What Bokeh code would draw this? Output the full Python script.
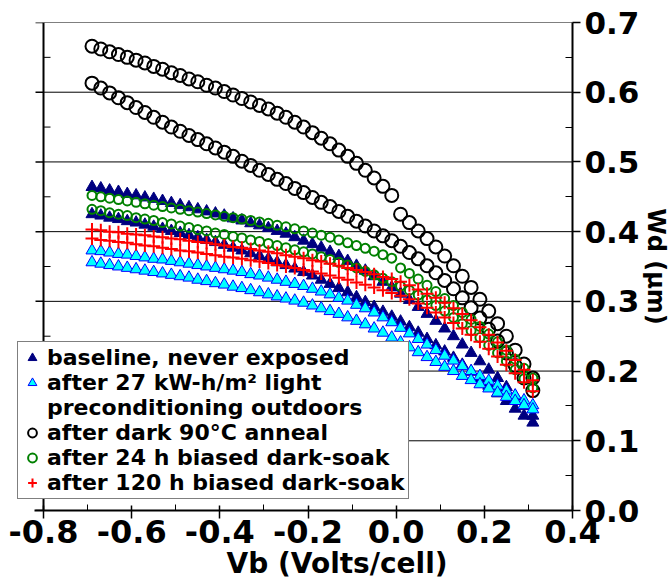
import math
from bokeh.plotting import figure
from bokeh.models import (FixedTicker, NumeralTickFormatter, Legend,
                          LegendItem, Span, Title)
from bokeh.embed import file_html
from bokeh.resources import INLINE

FONT = "DejaVu Sans"

# ---------------- data ----------------
V = [-0.69, -0.67, -0.65, -0.63, -0.61, -0.59, -0.57, -0.55, -0.53, -0.51,
     -0.49, -0.47, -0.45, -0.43, -0.41, -0.39, -0.37, -0.35, -0.33, -0.31,
     -0.29, -0.27, -0.25, -0.23, -0.21, -0.19, -0.17, -0.15, -0.13, -0.11,
     -0.09, -0.07, -0.05, -0.03, -0.01,
     0.01, 0.03, 0.05, 0.07, 0.09, 0.11, 0.13, 0.15, 0.17, 0.19, 0.21, 0.23,
     0.25, 0.27, 0.29, 0.31]

# baseline, never exposed (two cells)
BASE_1 = [0.464, 0.462, 0.459, 0.457, 0.454, 0.452, 0.449, 0.447, 0.444, 0.441,
          0.438, 0.435, 0.432, 0.429, 0.426, 0.423, 0.419, 0.416, 0.412, 0.409,
          0.405, 0.401, 0.397, 0.392, 0.387, 0.382, 0.377, 0.371, 0.365, 0.358,
          0.351, 0.344, 0.336, 0.328, 0.320,
          0.311, 0.302, 0.292, 0.282, 0.272, 0.261, 0.250, 0.238, 0.226, 0.214,
          0.202, 0.190, 0.177, 0.164, 0.150, 0.136]
BASE_2 = [0.425, 0.423, 0.420, 0.418, 0.415, 0.413, 0.410, 0.407, 0.404, 0.401,
          0.398, 0.395, 0.392, 0.388, 0.385, 0.381, 0.377, 0.373, 0.369, 0.365,
          0.361, 0.356, 0.352, 0.347, 0.342, 0.337, 0.331, 0.325, 0.319, 0.313,
          0.306, 0.299, 0.292, 0.285, 0.278,
          0.271, 0.263, 0.255, 0.246, 0.237, 0.228, 0.219, 0.209, 0.199, 0.189,
          0.179, 0.168, 0.157, 0.146, 0.136, 0.126]
# after 27 kW-h/m2 light preconditioning outdoors
LIGHT_1 = [0.373, 0.372, 0.370, 0.368, 0.367, 0.365, 0.363, 0.361, 0.360, 0.358,
           0.356, 0.354, 0.352, 0.350, 0.348, 0.346, 0.344, 0.342, 0.339, 0.337,
           0.334, 0.331, 0.328, 0.325, 0.322, 0.318, 0.314, 0.310, 0.305, 0.301,
           0.295, 0.290, 0.284, 0.277, 0.270,
           0.262, 0.254, 0.246, 0.238, 0.230, 0.222, 0.215, 0.207, 0.200, 0.193,
           0.186, 0.179, 0.172, 0.165, 0.158, 0.151]
LIGHT_2 = [0.356, 0.354, 0.352, 0.350, 0.348, 0.346, 0.344, 0.342, 0.340, 0.338,
           0.336, 0.334, 0.331, 0.329, 0.326, 0.324, 0.321, 0.319, 0.316, 0.313,
           0.310, 0.307, 0.304, 0.301, 0.298, 0.294, 0.290, 0.286, 0.282, 0.277,
           0.272, 0.267, 0.261, 0.255, 0.248,
           0.241, 0.234, 0.227, 0.220, 0.213, 0.206, 0.200, 0.193, 0.187, 0.181,
           0.175, 0.169, 0.163, 0.157, 0.151, 0.145]
# after dark 90C anneal
ANNEAL_1 = [0.666, 0.662, 0.658, 0.654, 0.650, 0.646, 0.642, 0.637, 0.633, 0.628,
            0.624, 0.619, 0.615, 0.610, 0.606, 0.601, 0.596, 0.591, 0.586, 0.581,
            0.576, 0.570, 0.564, 0.557, 0.550, 0.542, 0.534, 0.526, 0.517, 0.508,
            0.498, 0.488, 0.477, 0.465, 0.452,
            0.425, 0.413, 0.401, 0.390, 0.378, 0.365, 0.351, 0.336, 0.320, 0.303,
            0.286, 0.268, 0.250, 0.230, 0.210, 0.190]
ANNEAL_2 = [0.613, 0.606, 0.599, 0.592, 0.585, 0.578, 0.571, 0.564, 0.557, 0.550,
            0.544, 0.538, 0.532, 0.526, 0.520, 0.514, 0.508, 0.501, 0.495, 0.488,
            0.482, 0.475, 0.469, 0.462, 0.456, 0.449, 0.442, 0.436, 0.429, 0.422,
            0.415, 0.408, 0.401, 0.394, 0.387,
            0.379, 0.370, 0.361, 0.351, 0.341, 0.330, 0.318, 0.305, 0.291, 0.276,
            0.260, 0.243, 0.226, 0.208, 0.190, 0.172]
# after 24 h biased dark-soak
SOAK24_1 = [0.452, 0.450, 0.448, 0.446, 0.444, 0.442, 0.440, 0.438, 0.436, 0.434,
            0.432, 0.430, 0.428, 0.426, 0.424, 0.422, 0.420, 0.418, 0.416, 0.414,
            0.412, 0.409, 0.407, 0.404, 0.401, 0.398, 0.395, 0.392, 0.388, 0.384,
            0.380, 0.376, 0.372, 0.367, 0.362,
            0.348, 0.340, 0.332, 0.323, 0.314, 0.304, 0.294, 0.284, 0.274, 0.264,
            0.253, 0.242, 0.230, 0.217, 0.204, 0.190]
SOAK24_2 = [0.432, 0.430, 0.427, 0.425, 0.423, 0.420, 0.418, 0.416, 0.413, 0.411,
            0.408, 0.406, 0.403, 0.401, 0.398, 0.396, 0.393, 0.391, 0.388, 0.386,
            0.383, 0.380, 0.377, 0.374, 0.371, 0.368, 0.364, 0.360, 0.356, 0.352,
            0.348, 0.343, 0.338, 0.333, 0.328,
            0.322, 0.316, 0.309, 0.302, 0.294, 0.286, 0.277, 0.268, 0.258, 0.248,
            0.237, 0.226, 0.214, 0.202, 0.189, 0.176]
# after 120 h biased dark-soak
SOAK120_1 = [0.403, 0.402, 0.400, 0.399, 0.397, 0.396, 0.395, 0.393, 0.392, 0.390,
             0.389, 0.387, 0.385, 0.384, 0.382, 0.380, 0.378, 0.377, 0.375, 0.373,
             0.371, 0.369, 0.366, 0.364, 0.362, 0.359, 0.357, 0.354, 0.351, 0.348,
             0.345, 0.342, 0.339, 0.335, 0.332,
             0.328, 0.323, 0.317, 0.311, 0.305, 0.298, 0.290, 0.282, 0.273, 0.263,
             0.252, 0.241, 0.229, 0.216, 0.202, 0.187]
SOAK120_2 = [0.390, 0.388, 0.387, 0.385, 0.384, 0.382, 0.380, 0.379, 0.377, 0.375,
             0.373, 0.372, 0.370, 0.368, 0.366, 0.364, 0.363, 0.361, 0.359, 0.357,
             0.355, 0.352, 0.350, 0.348, 0.345, 0.343, 0.340, 0.337, 0.334, 0.331,
             0.327, 0.324, 0.320, 0.316, 0.312,
             0.308, 0.303, 0.297, 0.291, 0.284, 0.277, 0.269, 0.261, 0.252, 0.242,
             0.232, 0.221, 0.209, 0.197, 0.184, 0.171]

LEGEND_LABELS = ["baseline, never exposed",
                 "after 27 kW-h/m\u00b2 light",
                 "preconditioning outdoors",
                 "after dark 90\u00b0C anneal",
                 "after 24 h biased dark-soak",
                 "after 120 h biased dark-soak"]

X_TICKS = [-0.8, -0.6, -0.4, -0.2, 0.0, 0.2, 0.4]
X_MINOR = [-0.7, -0.5, -0.3, -0.1, 0.1, 0.3]
Y_TICKS = [0.0, 0.1, 0.2, 0.3, 0.4, 0.5, 0.6, 0.7]
Y_MINOR = [0.05, 0.15, 0.25, 0.35, 0.45, 0.55, 0.65]

X_TITLE = "Vb (Volts/cell)"
Y_TITLE = "Wd (\u03bcm)"

# ---------------- figure ----------------
# frame extends a little left of the -0.8 axis so the legend can sit there
p = figure(frame_width=555, frame_height=488, x_range=(-0.859, 0.4),
           y_range=(0.0, 0.7), y_axis_location="right",
           output_backend="svg", toolbar_location=None,
           min_border_left=17, min_border_top=22, min_border_right=0,
           min_border_bottom=0)
p.outline_line_color = None
p.background_fill_color = "white"
p.border_fill_color = "white"
p.xgrid.visible = False
p.ygrid.visible = False

xticker = FixedTicker(ticks=X_TICKS, minor_ticks=X_MINOR)
yticker = FixedTicker(ticks=Y_TICKS, minor_ticks=Y_MINOR)

xa = p.xaxis[0]
xa.ticker = xticker
xa.bounds = (-0.82, 0.4)
xa.formatter = NumeralTickFormatter(format="0.0")
xa.axis_line_width = 2
xa.major_tick_in = 5
xa.major_tick_out = 8
xa.minor_tick_in = 6
xa.minor_tick_out = 0
xa.major_tick_line_width = 1.5
xa.major_label_standoff = 1
xa.major_label_text_font = FONT
xa.major_label_text_font_style = "bold"
xa.major_label_text_font_size = "32px"
xa.major_label_text_color = "black"

xtitle = Title(text=X_TITLE, align="left", offset=209, standoff=-2,
               text_font=FONT, text_font_style="bold",
               text_font_size="28px", text_color="black")
p.add_layout(xtitle, "below")

ya = p.yaxis[0]
ya.ticker = yticker
ya.formatter = NumeralTickFormatter(format="0.0")
ya.axis_line_width = 2
ya.major_tick_in = 0
ya.major_tick_out = 8
ya.minor_tick_in = 7
ya.minor_tick_out = 0
ya.major_tick_line_width = 1.5
ya.major_label_standoff = 4
ya.major_label_text_font = FONT
ya.major_label_text_font_style = "bold"
ya.major_label_text_font_size = "31px"
ya.major_label_text_color = "black"
ya.axis_label = Y_TITLE
ya.axis_label_text_font = FONT
ya.axis_label_text_font_style = "bold"
ya.axis_label_text_font_size = "24px"
ya.axis_label_text_color = "black"
ya.axis_label_standoff = 0

# horizontal grid lines from the left (-0.8) axis to the right axis
p.ray(x=X_TICKS[0], y=Y_TICKS, length=0, angle=0,
      line_color="black", line_width=1)
# left axis (drawn at x = -0.8): line, outward major ticks, inward minor ticks
p.add_layout(Span(location=X_TICKS[0], dimension="height",
                  line_color="black", line_width=2))
p.ray(x=X_TICKS[0], y=Y_TICKS, length=8, length_units="screen",
      angle=math.pi, line_color="black", line_width=1.5)
p.ray(x=X_TICKS[0], y=Y_MINOR, length=7, length_units="screen",
      angle=0, line_color="black", line_width=1)

# ---------------- data marks ----------------
rb1 = p.scatter(V, BASE_1, marker="triangle", size=12,
                fill_color="#000080", line_color="#000080")
rb2 = p.scatter(V, BASE_2, marker="triangle", size=12,
                fill_color="#000080", line_color="#000080")
rl1 = p.scatter(V, LIGHT_1, marker="triangle", size=12,
                fill_color="#00FFFF", line_color="#0000FF", line_width=1)
rl2 = p.scatter(V, LIGHT_2, marker="triangle", size=12,
                fill_color="#00FFFF", line_color="#0000FF", line_width=1)
ra1 = p.scatter(V, ANNEAL_1, marker="circle", size=13, fill_color=None,
                line_color="black", line_width=2)
ra2 = p.scatter(V, ANNEAL_2, marker="circle", size=13, fill_color=None,
                line_color="black", line_width=2)
rg1 = p.scatter(V, SOAK24_1, marker="circle", size=9, fill_color=None,
                line_color="#008000", line_width=2)
rg2 = p.scatter(V, SOAK24_2, marker="circle", size=9, fill_color=None,
                line_color="#008000", line_width=2)
rr1 = p.scatter(V, SOAK120_1, marker="cross", size=13,
                line_color="#FF0000", line_width=2)
rr2 = p.scatter(V, SOAK120_2, marker="cross", size=13,
                line_color="#FF0000", line_width=2)
rblank = p.scatter([], [], marker="circle", size=1, fill_alpha=0, line_alpha=0)

legend = Legend(items=[LegendItem(label=LEGEND_LABELS[0], renderers=[rb1]),
                       LegendItem(label=LEGEND_LABELS[1], renderers=[rl1]),
                       LegendItem(label=LEGEND_LABELS[2], renderers=[rblank]),
                       LegendItem(label=LEGEND_LABELS[3], renderers=[ra1]),
                       LegendItem(label=LEGEND_LABELS[4], renderers=[rg1]),
                       LegendItem(label=LEGEND_LABELS[5], renderers=[rr1])],
                location=(0, 11))
legend.label_text_font = FONT
legend.label_text_font_style = "bold"
legend.label_text_font_size = "22px"
legend.label_text_color = "black"
legend.label_text_line_height = 1.0
legend.glyph_width = 22
legend.glyph_height = 23
legend.label_height = 23
legend.label_standoff = 4
legend.spacing = 0
legend.padding = 3
legend.margin = 0
legend.border_line_color = "black"
legend.border_line_width = 1
legend.background_fill_color = "white"
legend.background_fill_alpha = 1
p.add_layout(legend)

open("out.html", "w").write(file_html(p, INLINE))
